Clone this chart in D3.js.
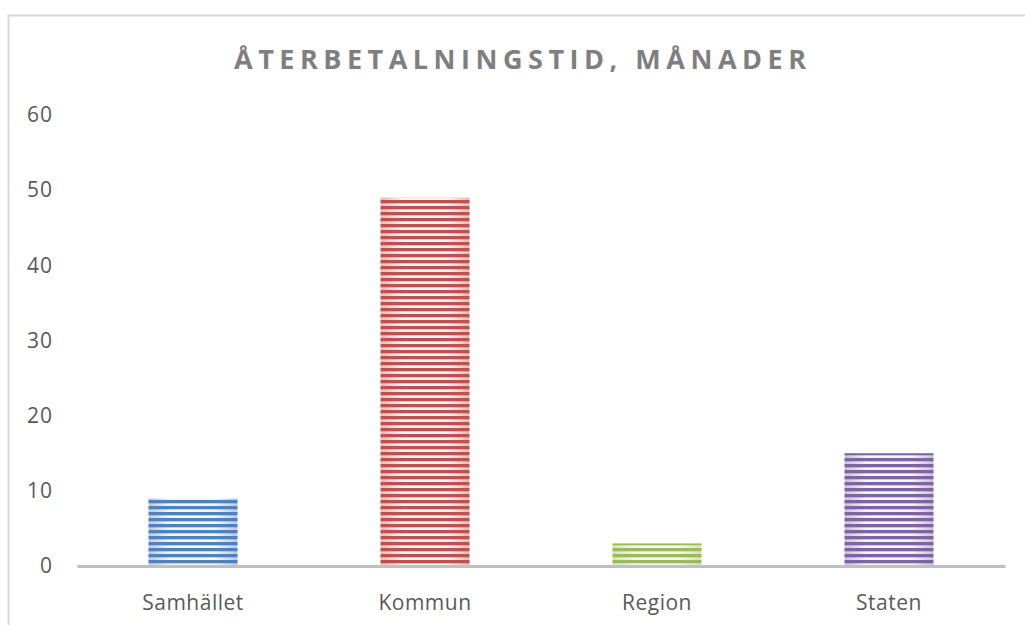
<!DOCTYPE html>
<html>
<head>
<meta charset="utf-8">
<script src="https://cdn.jsdelivr.net/npm/d3@7"></script>
<style>
body { margin:0; background:#fff; }
</style>
</head>
<body>
<script>
var width=1025, height=625;

var categories=["Samhället","Kommun","Region","Staten"];
var values=[9,49,3,15];
var yTicks=[0,10,20,30,40,50,60];
var darkColors=["#4f81bd","#c0504d","#9bbb59","#8064a2"];
var lightColors=["#b9cde5","#e6b9b8","#d7e4bd","#ccc1da"];
var title="ÅTERBETALNINGSTID, MÅNADER";

var svg=d3.select("body").append("svg")
	.attr("width",width)
	.attr("height",height);

svg.append("rect").attr("x",0).attr("y",0).attr("width",width).attr("height",height).attr("fill","#fff");
// chart frame, runs off the right and bottom edge
svg.append("rect").attr("x",8.5).attr("y",15.5).attr("width",width+20).attr("height",height+20)
	.attr("fill","none").attr("stroke","#d9d9d9").attr("stroke-width",2);

var x=d3.scaleBand().domain(categories).range([77,1005]).paddingInner(0.617).paddingOuter(0.3085);
var y=d3.scaleLinear().domain([0,60]).range([566,115]);

var defs=svg.append("defs");
categories.forEach(function(c,i) {
	var g=defs.append("linearGradient").attr("id","grad"+i).attr("x1","0%").attr("x2","100%").attr("y1","0%").attr("y2","0%");
	g.append("stop").attr("offset","0%").attr("stop-color",lightColors[i]);
	g.append("stop").attr("offset","25%").attr("stop-color","#f5f5f5");
	g.append("stop").attr("offset","75%").attr("stop-color","#f5f5f5");
	g.append("stop").attr("offset","100%").attr("stop-color",lightColors[i]);
	var p=defs.append("pattern").attr("id","stripe"+i).attr("patternUnits","userSpaceOnUse")
		.attr("x",0).attr("y",y(0)).attr("width",width).attr("height",6);
	p.append("rect").attr("x",0).attr("y",0).attr("width",width).attr("height",3.3).attr("fill",darkColors[i]);
});

svg.selectAll(".barbg").data(values).enter().append("rect")
	.attr("class","barbg")
	.attr("x",function(d,i){return x(categories[i]);})
	.attr("y",function(d){return y(d);})
	.attr("width",x.bandwidth())
	.attr("height",function(d){return y(0)-y(d);})
	.attr("fill",function(d,i){return "url(#grad"+i+")";});

svg.selectAll(".barstripe").data(values).enter().append("rect")
	.attr("class","barstripe")
	.attr("x",function(d,i){return x(categories[i]);})
	.attr("y",function(d){return y(d);})
	.attr("width",x.bandwidth())
	.attr("height",function(d){return y(0)-y(d);})
	.attr("fill",function(d,i){return "url(#stripe"+i+")";});

// y axis labels
var yAxis=svg.append("g").attr("transform","translate(53,0)")
	.call(d3.axisLeft(y).tickValues(yTicks).tickSize(0).tickPadding(0));
yAxis.select(".domain").remove();
yAxis.selectAll("text").attr("font-family","Open Sans").attr("font-size",21).attr("fill","#595959")
	.attr("letter-spacing",1);

// x axis
var xAxis=svg.append("g").attr("transform","translate(0,"+y(0)+")")
	.call(d3.axisBottom(x).tickSize(0).tickPadding(29));
xAxis.select(".domain").attr("stroke","#bfbfbf").attr("stroke-width",3);
xAxis.selectAll("text").attr("font-family","Open Sans").attr("font-size",21).attr("fill","#595959")
	.attr("letter-spacing",0.5);

svg.append("text").text(title)
	.attr("x",234).attr("y",69)
	.attr("textLength",572).attr("lengthAdjust","spacing")
	.attr("font-family","Open Sans").attr("font-weight","bold").attr("font-size",27)
	.attr("fill","#7f7f7f");
</script>
</body>
</html>
